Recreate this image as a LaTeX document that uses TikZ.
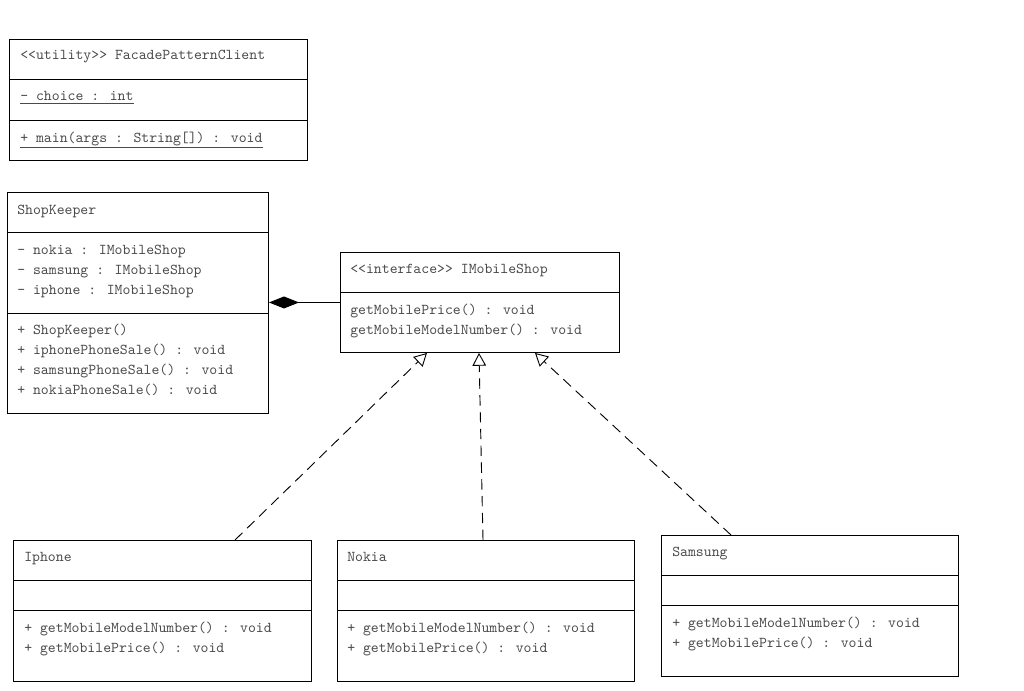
\documentclass[tikz,border=0pt]{standalone}
\usepackage{xcolor}
\usepackage{tikz}
\usetikzlibrary{arrows.meta,calc}
\definecolor{umltext}{HTML}{4A4A4A}

\begin{document}
\begin{tikzpicture}[
  x=0.025cm, y=-0.025cm,
  font=\ttfamily\fontsize{10.7}{12}\selectfont,
  box/.style={draw, line width=0.65pt, anchor=north west, inner sep=0pt},
  sep/.style={line width=0.65pt},
  txt/.style={anchor=base west, inner sep=0pt, text=umltext},
  comp/.style={-{Diamond[length=7.5mm, width=3mm, fill=black]}, line width=0.65pt},
  realize/.style={-{Triangle[open, length=3.2mm, width=3.4mm]}, line width=0.65pt, dash pattern=on 2.6mm off 1.6mm},
]
\useasboundingbox (0,0) rectangle (1024,690);
% ---------------- client ----------------
\node[box, minimum width=7.45cm, minimum height=3.025cm] (client) at (9,39) {};
\draw[sep] (client.west |- 0,79) -- (client.east |- 0,79);
\draw[sep] (client.west |- 0,120) -- (client.east |- 0,120);
\node[txt] (clienttitle) at (20,60) {<<utility>> FacadePatternClient};
\node[txt] (clientattr) at (20,101) {\underline{- choice : int}};
\node[txt] (clientop) at (20,142) {\underline{+ main(args : String[]) : void}};
% ---------------- ShopKeeper ----------------
\node[box, minimum width=6.525cm, minimum height=5.525cm] (keeper) at (7,192) {};
\draw[sep] (keeper.west |- 0,232) -- (keeper.east |- 0,232);
\draw[sep] (keeper.west |- 0,313) -- (keeper.east |- 0,313);
\node[txt] (keepertitle) at (17,214) {ShopKeeper};
\node[txt] (keeperattra) at (17,254) {- nokia : IMobileShop};
\node[txt] (keeperattrb) at (17,274) {- samsung : IMobileShop};
\node[txt] (keeperattrc) at (17,294) {- iphone : IMobileShop};
\node[txt] (keeperopa) at (17,334) {+ ShopKeeper()};
\node[txt] (keeperopb) at (17,354) {+ iphonePhoneSale() : void};
\node[txt] (keeperopc) at (17,374) {+ samsungPhoneSale() : void};
\node[txt] (keeperopd) at (17,394) {+ nokiaPhoneSale() : void};
% ---------------- IMobileShop ----------------
\node[box, minimum width=6.975cm, minimum height=2.5cm] (shop) at (340,252) {};
\draw[sep] (shop.west |- 0,292) -- (shop.east |- 0,292);
\node[txt] (shoptitle) at (350,273) {<<interface>> IMobileShop};
\node[txt] (shopopa) at (350,314) {getMobilePrice() : void};
\node[txt] (shopopb) at (350,334) {getMobileModelNumber() : void};
% ---------------- Iphone ----------------
\node[box, minimum width=7.45cm, minimum height=3.525cm] (iphone) at (13,540) {};
\draw[sep] (iphone.west |- 0,580) -- (iphone.east |- 0,580);
\draw[sep] (iphone.west |- 0,610) -- (iphone.east |- 0,610);
\node[txt] (iphonetitle) at (24,561) {Iphone};
\node[txt] (iphoneopa) at (24,632) {+ getMobileModelNumber() : void};
\node[txt] (iphoneopb) at (24,652) {+ getMobilePrice() : void};
% ---------------- Nokia ----------------
\node[box, minimum width=7.425cm, minimum height=3.525cm] (nokia) at (337,540) {};
\draw[sep] (nokia.west |- 0,580) -- (nokia.east |- 0,580);
\draw[sep] (nokia.west |- 0,610) -- (nokia.east |- 0,610);
\node[txt] (nokiatitle) at (347,561) {Nokia};
\node[txt] (nokiaopa) at (347,632) {+ getMobileModelNumber() : void};
\node[txt] (nokiaopb) at (347,652) {+ getMobilePrice() : void};
% ---------------- Samsung ----------------
\node[box, minimum width=7.425cm, minimum height=3.525cm] (samsung) at (661,535) {};
\draw[sep] (samsung.west |- 0,575) -- (samsung.east |- 0,575);
\draw[sep] (samsung.west |- 0,605) -- (samsung.east |- 0,605);
\node[txt] (samsungtitle) at (672,556) {Samsung};
\node[txt] (samsungopa) at (672,627) {+ getMobileModelNumber() : void};
\node[txt] (samsungopb) at (672,647) {+ getMobilePrice() : void};
% ---------------- relations ----------------
\draw[comp] (shop.west) -- (keeper.east |- shop.west);
\draw[realize] ($(iphone.north west)+(222,0)$) -- ($(shop.south west)+(87,0)$);
\draw[realize] ($(nokia.north west)+(146,0)$) -- ($(shop.south west)+(139,0)$);
\draw[realize] ($(samsung.north west)+(70,0)$) -- ($(shop.south west)+(195,0)$);
\end{tikzpicture}
\end{document}
